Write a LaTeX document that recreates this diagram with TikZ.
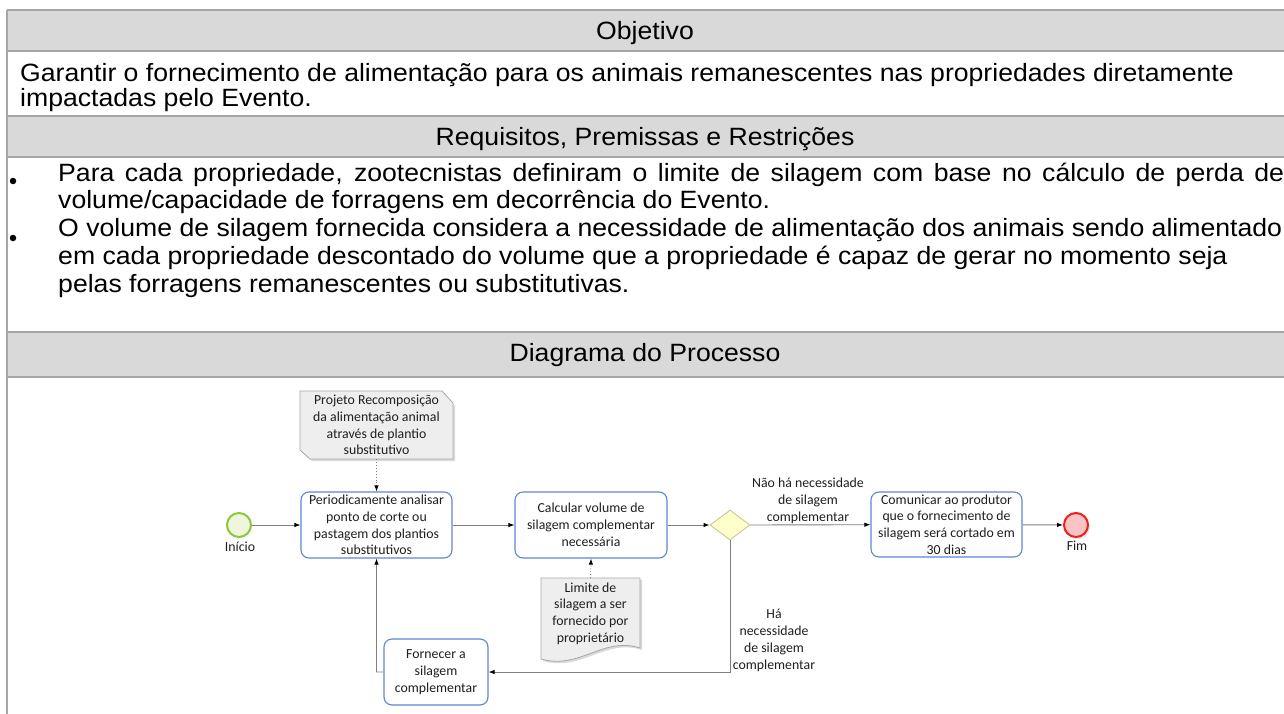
\documentclass[tikz,border=0pt]{standalone}
\usepackage{fontspec}
\setmainfont[FakeStretch=1.065]{Liberation Sans}
\newfontfamily\carl{Carlito}
\usetikzlibrary{arrows.meta,shapes.geometric,shadows}
\definecolor{hdr}{HTML}{D9D9D9}
\definecolor{rule}{HTML}{A6A6A6}
\definecolor{taskblue}{HTML}{5B87D6}
\definecolor{docfill}{HTML}{EEEEEE}
\definecolor{docline}{HTML}{A8A8A8}
\definecolor{gwfill}{HTML}{FFFFCC}
\definecolor{gwline}{HTML}{C8C896}
\definecolor{startline}{HTML}{8CC63F}
\definecolor{startfill}{HTML}{EEF7DC}
\definecolor{endline}{HTML}{F21D1D}
\definecolor{endfill}{HTML}{F8C4C4}
\definecolor{flow}{HTML}{808080}
\definecolor{dtext}{HTML}{1F1F1F}
\newcommand\tfont{\fontsize{25}{25}\selectfont}
\newcommand\dfont{\carl\fontsize{13.8}{16.8}\selectfont}
\begin{document}
\begin{tikzpicture}[x=1pt,y=-1pt,
  tt/.style={font=\tfont, inner sep=0pt, text=black},
  bulletdot/.style={circle, fill=black, inner sep=0pt, minimum size=6.5pt},
  task/.style={draw=taskblue, line width=1.1pt, rounded corners=8pt, fill=white,
    align=center, font=\dfont, text=dtext, inner sep=2pt},
  docbox/.style={align=center, font=\dfont, text=dtext, inner sep=0pt},
  lbl/.style={align=center, font=\dfont, text=dtext, inner sep=0pt},
  flowarrow/.style={draw=flow, line width=0.9pt, -{Latex[length=6pt,width=4.5pt,color=black]}},
  assoc/.style={draw=flow, line width=0.9pt, dotted, -{Latex[length=6pt,width=4.5pt,color=black]}},
  evstart/.style={circle, draw=startline, line width=2pt, fill=startfill, minimum size=24pt, inner sep=0pt},
  evend/.style={circle, draw=endline, line width=2pt, fill=endfill, minimum size=24pt, inner sep=0pt,
    drop shadow={opacity=0.2, shadow xshift=2pt, shadow yshift=-2pt}},
  gw/.style={diamond, draw=gwline, line width=0.9pt, fill=gwfill, minimum width=40pt, minimum height=30pt, inner sep=0pt}
]
\useasboundingbox (0,0) rectangle (1284,714);
\clip (0,0) rectangle (1284,714);
\fill[white] (0,0) rectangle (1284,714);

% ---------- table ----------
\fill[hdr] (7,10) rectangle (1300,51);
\fill[hdr] (7,116) rectangle (1300,157);
\fill[hdr] (7,332) rectangle (1300,377);
\begin{scope}[draw=rule, line width=1.6pt]
  \draw (7,10) -- (1300,10);
  \draw (7,51) -- (1300,51);
  \draw (7,116) -- (1300,116);
  \draw (7,157) -- (1300,157);
  \draw (7,332) -- (1300,332);
  \draw (7,377) -- (1300,377);
  \draw (7,10) -- (7,714);
\end{scope}

\node[tt, anchor=base] (hobj) at (645,40) {Objetivo};
\node[tt, anchor=base west] (g1) at (20,82) {Garantir o fornecimento de alimentação para os animais remanescentes nas propriedades diretamente};
\node[tt, anchor=base west] (g2) at (20,107) {impactadas pelo Evento.};
\node[tt, anchor=base] (hreq) at (645,146) {Requisitos, Premissas e Restrições};
\node[bulletdot] (b1) at (13,181) {};
\node[bulletdot] (b2) at (13,238) {};
\node[tt, anchor=base west] (r1) at (58,182) {\makebox[1226pt][s]{Para cada propriedade, zootecnistas definiram o limite de silagem com base no cálculo de perda de}};
\node[tt, anchor=base west] (r2) at (58,208) {volume/capacidade de forragens em decorrência do Evento.};
\node[tt, anchor=base west] (r3) at (58,236) {O volume de silagem fornecida considera a necessidade de alimentação dos animais sendo alimentado};
\node[tt, anchor=base west] (r4) at (58,264) {em cada propriedade descontado do volume que a propriedade é capaz de gerar no momento seja};
\node[tt, anchor=base west] (r5) at (58,292) {pelas forragens remanescentes ou substitutivas.};
\node[tt, anchor=base] (hdia) at (645,361) {Diagrama do Processo};

% ---------- diagram ----------
% document shapes
\fill[black, opacity=0.15] (302,393) -- (442,393) -- (455,406) -- (455,461) -- (312,461) -- (302,452) -- cycle;
\draw[docline, fill=docfill, line width=0.8pt] (300,391) -- (442,391) -- (453,403) -- (453,459) -- (310,459) -- (300,450) -- cycle;
\node[docbox, minimum width=153pt, minimum height=68pt] (proj) at (376.5,425)
  {Projeto Recomposição\\da alimentação animal\\através de plantio\\substitutivo};

\fill[black, opacity=0.15] (543,580) -- (642,580) -- (642,650) .. controls (605,638) and (582,672) .. (543,661) -- cycle;
\draw[docline, fill=docfill, line width=0.8pt] (541,578) -- (640,578) -- (640,648) .. controls (603,636) and (580,670) .. (541,659) -- cycle;
\node[docbox, minimum width=99pt, minimum height=71pt, anchor=north] (lim) at (590.5,578)
  {Limite de\\silagem a ser\\fornecido por\\proprietário};

% events
\node[evstart] (ini) at (239,525) {};
\node[lbl] (inil) at (240,547) {Início};
\node[evend] (fim) at (1076,525) {};
\node[lbl] (fiml) at (1077,546) {Fim};

% tasks
\node[task, minimum width=151pt, minimum height=66pt] (t1) at (376.5,525)
  {Periodicamente analisar\\ponto de corte ou\\pastagem dos plantios\\substitutivos};
\node[task, minimum width=152pt, minimum height=66pt] (t2) at (591,525)
  {Calcular volume de\\silagem complementar\\necessária};
\node[task, minimum width=151pt, minimum height=65pt] (t3) at (946.5,524.5)
  {Comunicar ao produtor\\que o fornecimento de\\silagem será cortado em\\30 dias};
\node[task, minimum width=104pt, minimum height=66pt] (t4) at (436,672)
  {Fornecer a\\silagem\\complementar};

% gateway
\node[gw] (gw) at (730,525) {};

% labels
\node[lbl] (lno) at (808,501) {Não há necessidade\\de silagem\\complementar};
\node[lbl] (lyes) at (774,640.5) {Há\\necessidade\\de silagem\\complementar};

% connectors
\draw[flowarrow] (ini) -- (t1);
\draw[flowarrow] (t1) -- (t2);
\draw[flowarrow] (t2) -- (gw.west);
\draw[flowarrow] (gw.east) -- (t3);
\draw[flowarrow] (t3) -- (fim);
\draw[flowarrow] (gw.south) |- (t4.east);
\draw[flowarrow] (t4.west) -- ++(-7,0) -- (t1.south);
\draw[assoc] (proj.south) -- (t1.north);
\draw[assoc] (lim.north) -- (t2.south);
\end{tikzpicture}
\end{document}
